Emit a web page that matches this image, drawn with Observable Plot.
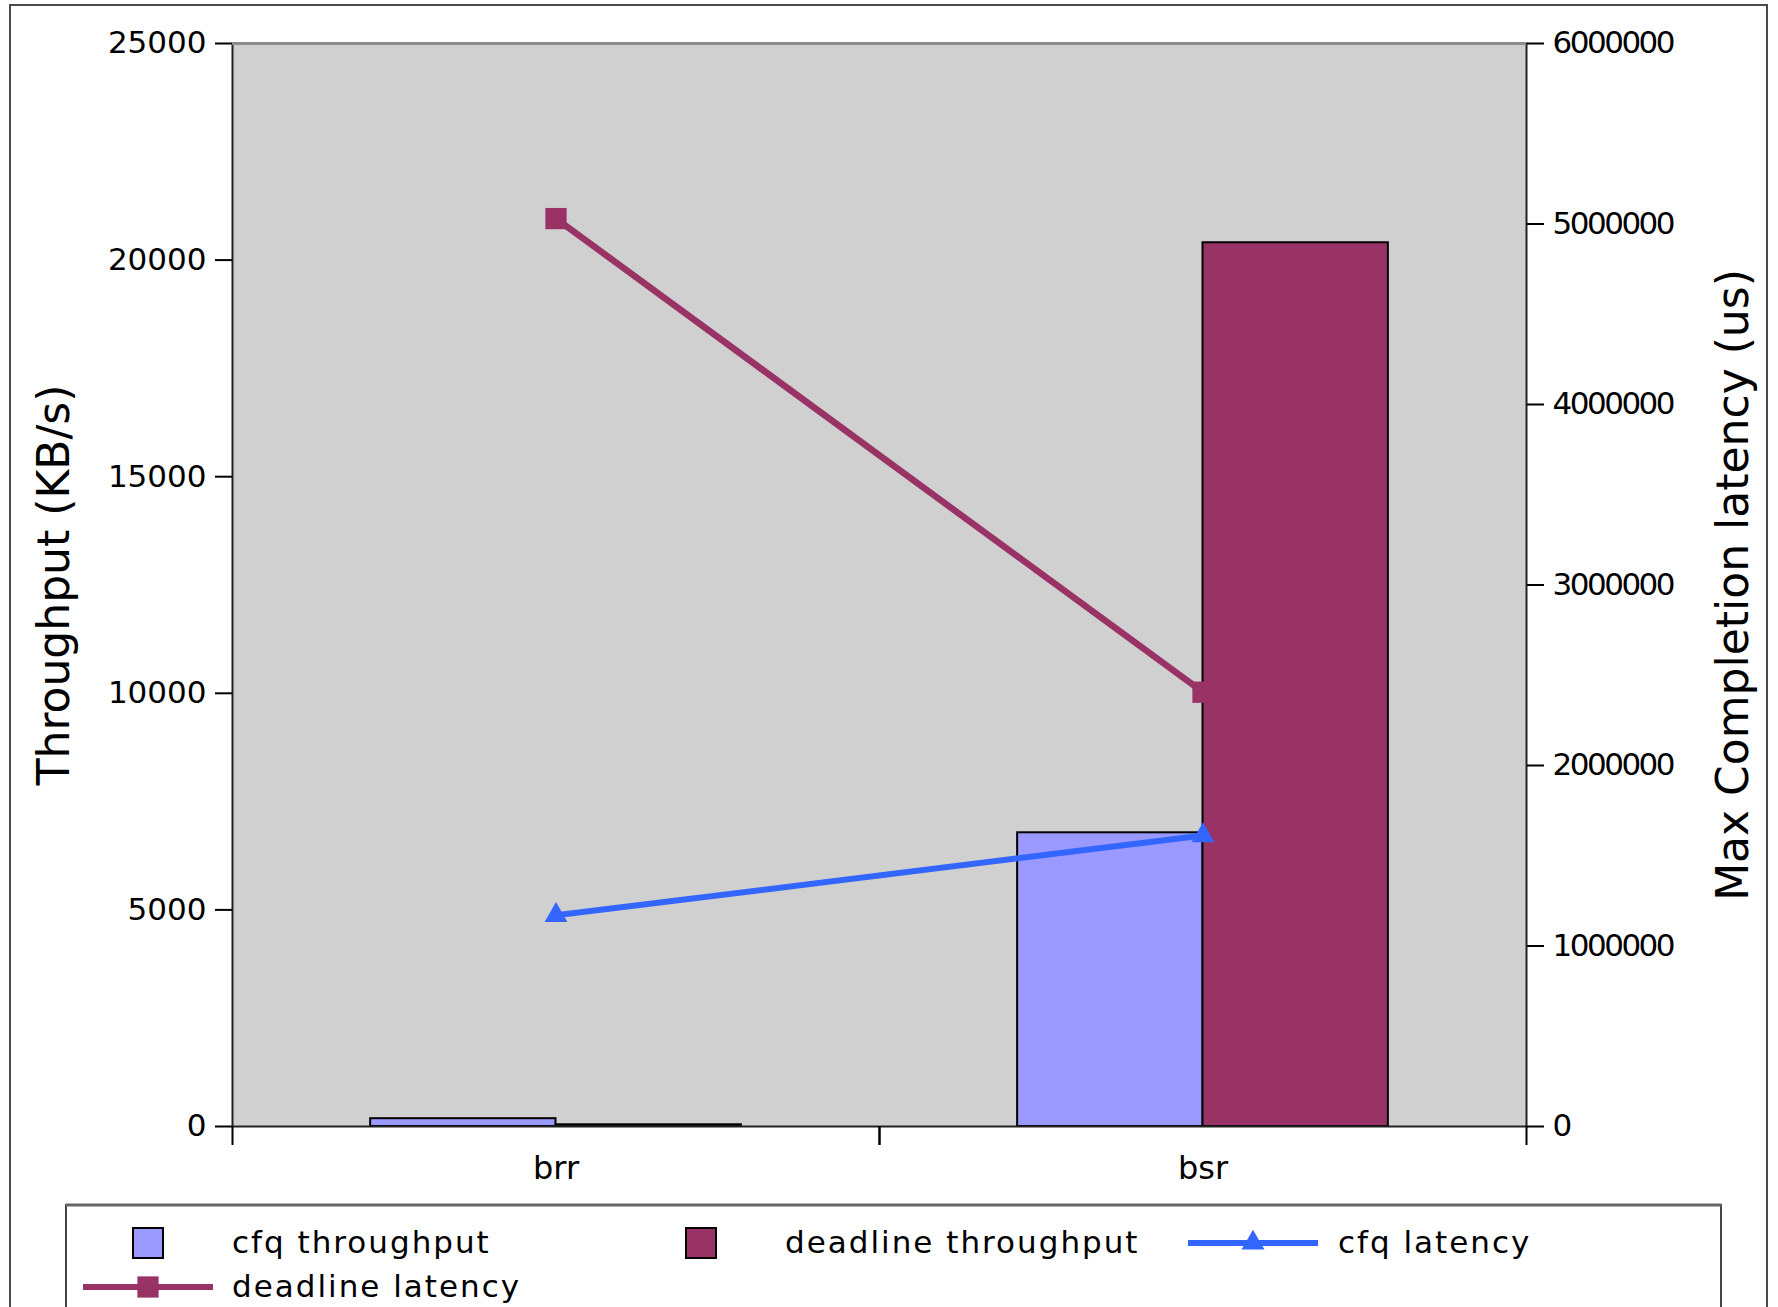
<!DOCTYPE html>
<html>
<head>
<meta charset="utf-8">
<script src="https://cdn.jsdelivr.net/npm/d3@7"></script>
<script src="https://cdn.jsdelivr.net/npm/@observablehq/plot@0.6"></script>
<style>
  body { margin: 0; background: #fff; }
  #wrap { position: relative; width: 1778px; height: 1307px; overflow: hidden; font-family: "DejaVu Sans", sans-serif; }
  #border { position: absolute; left: 9px; top: 4px; width: 1759px; height: 1400px; border: 2px solid #4a4a4a; box-sizing: border-box; }
  #chart { position: absolute; left: 0; top: 0; }
  #legend { position: absolute; left: 0; top: 0; }
</style>
</head>
<body>
<div id="wrap">
  <div id="border"></div>
  <div id="chart"></div>
  <div id="legend"></div>
</div>
<script>
// ---- data ----
const categories = ["brr", "bsr"];
const cfqThroughput = [180, 6780];          // KB/s
const deadlineThroughput = [40, 20400];     // KB/s
const cfqLatency = [1170000, 1612000];      // us
const deadlineLatency = [5030000, 2406000]; // us
const throughputTicks = [0, 5000, 10000, 15000, 20000, 25000];
const latencyTicks = [0, 1000000, 2000000, 3000000, 4000000, 5000000, 6000000];
const seriesNames = ["cfq throughput", "deadline throughput", "cfq latency", "deadline latency"];
const yTitleLeft = "Throughput (KB/s)";
const yTitleRight = "Max Completion latency (us)";

// ---- styling / layout ----
const colors = { cfqBar: "#9999ff", deadlineBar: "#993366", cfqLine: "#3366ff", deadlineLine: "#993366" };
const W = 1778, H = 1190, ML = 232, MR = 252, MT = 43, MB = 64;
const throughputMax = throughputTicks[throughputTicks.length - 1];
const latencyMax = latencyTicks[latencyTicks.length - 1];
const ratio = latencyMax / throughputMax;
const bw = (W - ML - MR) / categories.length;
const groupPad = 0.2135; // fraction of band before first bar

const rows = categories.map((c, i) => ({
  category: c,
  cfqT: cfqThroughput[i],
  dlT: deadlineThroughput[i],
  cfqL: cfqLatency[i] / ratio,
  dlL: deadlineLatency[i] / ratio
}));

const chart = Plot.plot({
  width: W, height: H,
  marginLeft: ML, marginRight: MR, marginTop: MT, marginBottom: MB,
  style: { fontFamily: "DejaVu Sans, sans-serif", color: "#000", background: "transparent", overflow: "visible" },
  x: { type: "band", domain: categories, paddingInner: 0, paddingOuter: 0 },
  y: { domain: [0, throughputMax] },
  marks: [
    Plot.frame({ fill: "#d0d0d0", stroke: null }),
    Plot.barY(rows, { x: "category", y: "cfqT", fill: colors.cfqBar, stroke: "#000", strokeWidth: 2,
      insetLeft: bw * groupPad, insetRight: bw * 0.5 }),
    Plot.barY(rows, { x: "category", y: "dlT", fill: colors.deadlineBar, stroke: "#000", strokeWidth: 2,
      insetLeft: bw * 0.5, insetRight: bw * groupPad }),
    Plot.line(rows, { x: "category", y: "dlL", stroke: colors.deadlineLine, strokeWidth: 6.5 }),
    Plot.dot(rows, { x: "category", y: "dlL", symbol: "square", r: 12, fill: colors.deadlineLine, stroke: null }),
    Plot.line(rows, { x: "category", y: "cfqL", stroke: colors.cfqLine, strokeWidth: 6 }),
    Plot.dot(rows, { x: "category", y: "cfqL", symbol: "triangle", r: 8.5, fill: colors.cfqLine, stroke: null }),
    Plot.frame({ stroke: "#222", strokeWidth: 2 }),
    Plot.ruleY([throughputMax], { stroke: "#8c8c8c", strokeWidth: 3 }),
    Plot.axisY({ ticks: throughputTicks, anchor: "left", tickSize: 17, tickPadding: 9, fontSize: 31,
      tickFormat: d => String(d), label: null, strokeWidth: 2 }),
    Plot.axisY({ ticks: latencyTicks.map(v => v / ratio), anchor: "right", tickSize: 17, tickPadding: 9, fontSize: 31,
      tickFormat: d => String(Math.round(d * ratio)), label: null, strokeWidth: 2 }),
    Plot.axisX({ anchor: "bottom", tickSize: 0, tickPadding: 30, fontSize: 32, label: null }),
    Plot.axisX({ anchor: "bottom", tickSize: 19, tickFormat: () => "", label: null, dx: -bw / 2, strokeWidth: 2 }),
    Plot.axisX({ anchor: "bottom", tickSize: 19, tickFormat: () => "", label: null, dx: bw / 2, strokeWidth: 2 }),
    Plot.text([yTitleLeft], { text: d => d, frameAnchor: "left", textAnchor: "middle", dx: -178, rotate: -90, fontSize: 44, fill: "#000" }),
    Plot.text([yTitleRight], { text: d => d, frameAnchor: "right", textAnchor: "middle", dx: 207, rotate: -90, fontSize: 44, fill: "#000" })
  ]
});
document.getElementById("chart").appendChild(chart);
// tighter digit spacing on the right-hand latency axis labels
d3.select(chart).selectAll("g[aria-label='y-axis tick label']")
  .filter(function () { return this.getAttribute("text-anchor") === "start"; })
  .attr("letter-spacing", -2.5);

// ---- legend ----
const lg = d3.select("#legend").append("svg").attr("width", W).attr("height", 1307)
  .style("font-family", "DejaVu Sans, sans-serif");
lg.append("rect").attr("x", 66).attr("y", 1205).attr("width", 1655).attr("height", 200)
  .attr("fill", "#fff").attr("stroke", "#444").attr("stroke-width", 2);
lg.append("line").attr("x1", 66).attr("x2", 1721).attr("y1", 1205).attr("y2", 1205)
  .attr("stroke", "#666").attr("stroke-width", 3);

const items = [
  { name: seriesNames[0], kind: "rect", color: colors.cfqBar, sx: 148, sy: 1243, tx: 232, ty: 1253 },
  { name: seriesNames[1], kind: "rect", color: colors.deadlineBar, sx: 701, sy: 1243, tx: 785, ty: 1253 },
  { name: seriesNames[2], kind: "line", symbol: d3.symbolTriangle, size: 227, color: colors.cfqLine, sx: 1253, sy: 1243, tx: 1338, ty: 1253 },
  { name: seriesNames[3], kind: "line", symbol: d3.symbolSquare, size: 452, color: colors.deadlineLine, sx: 148, sy: 1287, tx: 232, ty: 1297 }
];
for (const it of items) {
  if (it.kind === "rect") {
    lg.append("rect").attr("x", it.sx - 15).attr("y", it.sy - 15).attr("width", 30).attr("height", 30)
      .attr("fill", it.color).attr("stroke", "#000").attr("stroke-width", 2);
  } else {
    lg.append("line").attr("x1", it.sx - 65).attr("x2", it.sx + 65).attr("y1", it.sy).attr("y2", it.sy)
      .attr("stroke", it.color).attr("stroke-width", 6);
    lg.append("path").attr("d", d3.symbol(it.symbol, it.size)()).attr("transform", `translate(${it.sx},${it.sy})`)
      .attr("fill", it.color);
  }
  lg.append("text").attr("x", it.tx).attr("y", it.ty).attr("font-size", 31).attr("letter-spacing", 2)
    .attr("fill", "#000").text(it.name);
}
</script>
</body>
</html>
